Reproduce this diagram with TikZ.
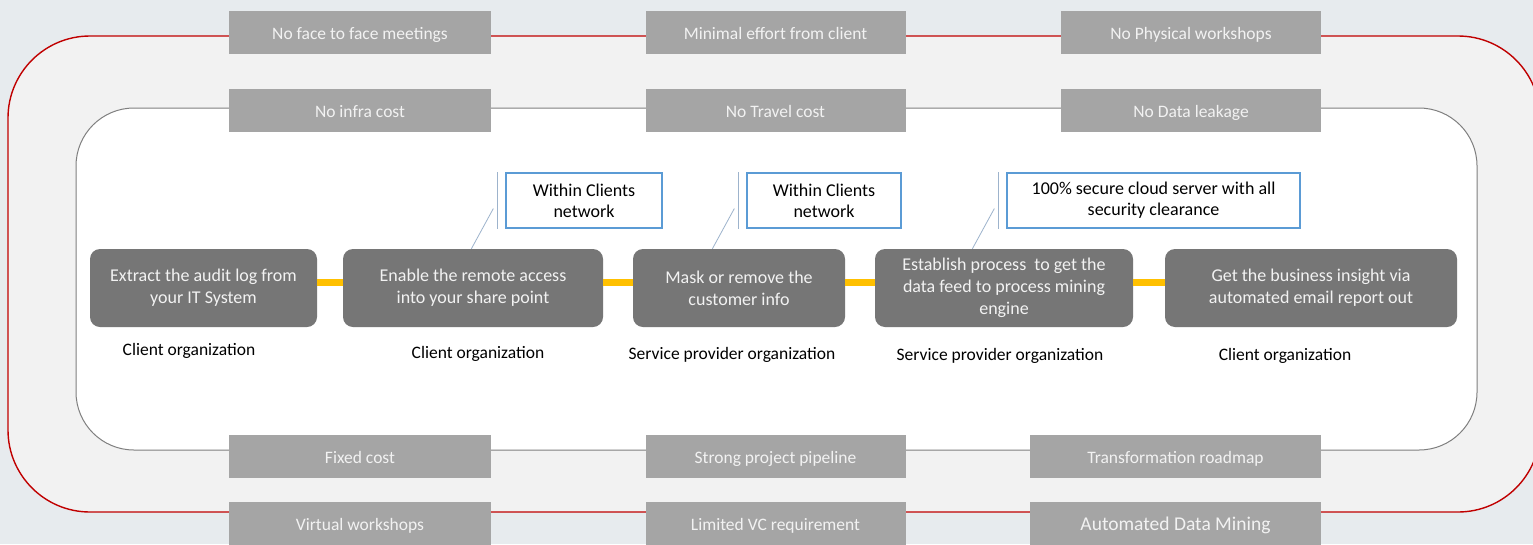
\documentclass[tikz,border=0pt]{standalone}
\usepackage{fontspec}
\setmainfont{Carlito}
\usepackage{xcolor}
\definecolor{page bg}{HTML}{E7EBEE}
\definecolor{band fill}{HTML}{F2F2F2}
\definecolor{band edge}{HTML}{C00000}
\definecolor{inner edge}{HTML}{7F7F7F}
\definecolor{tag gray}{HTML}{A5A5A5}
\definecolor{stage gray}{HTML}{767676}
\definecolor{link yellow}{HTML}{FFC000}
\definecolor{note edge}{HTML}{5B9BD5}
\definecolor{pin edge}{HTML}{9DB3CC}
\tikzset{tag/.style={fill=tag gray, text=white!95!black, minimum height=43pt, inner sep=0pt,
        text height=17pt, text depth=3pt, font=\fontsize{17.5}{21}\selectfont},
    stage/.style={fill=stage gray, text=white!95!black, rounded corners=10pt, minimum height=78pt,
        inner sep=0pt, align=center, font=\fontsize{18}{22}\selectfont},
    note/.style={draw=note edge, line width=1.3pt, fill=white, minimum width=156pt,
        minimum height=55pt, inner sep=0pt, align=center, font=\fontsize{18}{21}\selectfont},
    org/.style={text=black, inner sep=0pt, font=\fontsize{17.5}{21}\selectfont},
    link/.style={draw=link yellow, line width=7pt},
    pinline/.style={draw=pin edge, line width=0.8pt}}

\begin{document}
\begin{tikzpicture}[x=1pt,y=-1pt]
    % Frame of the picture
    \useasboundingbox (0,0) rectangle (1533,544);
    \clip (0,0) rectangle (1533,544);
    \fill[page bg] (0,0) rectangle (1533,544);
    %
    \draw[band edge, line width=1.4pt, fill=band fill, rounded corners=82pt] (8,36) rectangle (1540,512);
    \draw[inner edge, line width=1pt, fill=white, rounded corners=58pt] (76,108) rectangle (1477,450);
    %
    % Benefit tags on the two frames
    \node[tag, minimum width=262pt] (t1) at (360,32.5) {No face to face meetings};
    \node[tag, minimum width=260pt] (t2) at (775.5,32.5) {Minimal effort from client};
    \node[tag, minimum width=260pt] (t3) at (1191,32.5) {No Physical workshops};
    \node[tag, minimum width=262pt] (u1) at (360,110.5) {No infra cost};
    \node[tag, minimum width=260pt] (u2) at (775.5,110.5) {No Travel cost};
    \node[tag, minimum width=260pt] (u3) at (1191,110.5) {No Data leakage};
    \node[tag, minimum width=262pt] (f1) at (360,456) {Fixed cost};
    \node[tag, minimum width=260pt] (f2) at (775.5,456) {Strong project pipeline};
    \node[tag, minimum width=291pt] (f3) at (1175.5,456) {Transformation roadmap};
    \node[tag, minimum width=262pt] (v1) at (360,523.5) {Virtual workshops};
    \node[tag, minimum width=260pt] (v2) at (775.5,523.5) {Limited VC requirement};
    \node[tag, minimum width=291pt, font=\fontsize{19.5}{23}\selectfont] (v3) at (1175.5,523.5) {Automated Data Mining};
    %
    % Process stages
    \node[stage, minimum width=227pt] (s1) at (203.5,288) {Extract the audit log from\\your IT System};
    \node[stage, minimum width=260pt] (s2) at (473,288) {Enable the remote access\\into your share point};
    \node[stage, minimum width=212pt] (s3) at (739,288) {Mask or remove the\\customer info};
    \node[stage, minimum width=258pt] (s4) at (1004,288) {Establish process\ \ to get the\\data feed to process mining\\engine};
    \node[stage, minimum width=292pt] (s5) at (1311,288) {Get the business insight via\\automated email report out};
    \foreach \a/\b in {s1/s2,s2/s3,s3/s4,s4/s5}
        \draw[link] ([yshift=6pt]\a.east) -- ([yshift=6pt]\b.west);
    %
    \node[org] (o1) at (189,351) {Client organization};
    \node[org] (o2) at (478,354) {Client organization};
    \node[org] (o3) at (732,355) {Service provider organization};
    \node[org] (o4) at (1000,356) {Service provider organization};
    \node[org] (o5) at (1285,356) {Client organization};
    %
    % Call-outs
    \node[note] (c1) at (584,200.5) {Within Clients\\network};
    \node[note, minimum width=154pt] (c2) at (824,200.5) {Within Clients\\network};
    \node[note, minimum width=293pt] (c3) at (1153.5,200.5) {100\% secure cloud server with all\\security clearance};
    \foreach \c/\s in {c1/s2,c2/s3,c3/s4}{
        \draw[pinline] ([xshift=-8pt]\c.north west) -- ([xshift=-8pt]\c.south west);
        \draw[pinline] ([xshift=-12pt,yshift=-8pt]\c.west) -- ([xshift=-34pt]\c.south west |- \s.north);
    }
\end{tikzpicture}
\end{document}
